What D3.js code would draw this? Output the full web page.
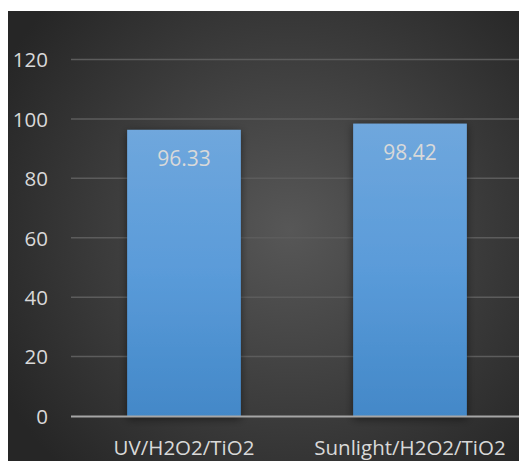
<!DOCTYPE html>
<html>
<head>
<meta charset="utf-8">
<script src="https://cdn.jsdelivr.net/npm/d3@7"></script>
<style>
  html, body { margin: 0; padding: 0; background: #ffffff; }
  svg { display: block; }
</style>
</head>
<body>
<svg id="chart" width="519" height="461"></svg>
<script>
// Degradation efficiency by process
const categories = ["UV/H2O2/TiO2", "Sunlight/H2O2/TiO2"];
const values = [96.33, 98.42];
const yTicks = [0, 20, 40, 60, 80, 100, 120];

const W = 519, H = 461;
const svg = d3.select("#chart");
const defs = svg.append("defs");

// dark radial backdrop
const bg = defs.append("radialGradient").attr("id", "bg")
  .attr("gradientUnits", "userSpaceOnUse")
  .attr("cx", 290).attr("cy", 230).attr("r", 330);
bg.append("stop").attr("offset", "0%").attr("stop-color", "#575757");
bg.append("stop").attr("offset", "100%").attr("stop-color", "#262626");

// bar fill
const barGrad = defs.append("linearGradient").attr("id", "bar")
  .attr("x1", 0).attr("y1", 0).attr("x2", 0).attr("y2", 1);
barGrad.append("stop").attr("offset", "0%").attr("stop-color", "#6fa7dd");
barGrad.append("stop").attr("offset", "50%").attr("stop-color", "#5a9bd9");
barGrad.append("stop").attr("offset", "100%").attr("stop-color", "#4388c8");

const shadow = defs.append("filter").attr("id", "shadow")
  .attr("x", "-20%").attr("y", "-10%").attr("width", "140%").attr("height", "120%");
shadow.append("feDropShadow").attr("dx", 0).attr("dy", 2)
  .attr("stdDeviation", 4).attr("flood-color", "#000").attr("flood-opacity", 0.5);

svg.append("rect").attr("x", 8).attr("y", 11)
  .attr("width", W - 8).attr("height", H - 11).attr("fill", "url(#bg)");

const x = d3.scaleBand().domain(categories).range([71, 523])
  .paddingInner(0.497).paddingOuter(0.2485);
const y = d3.scaleLinear().domain([0, 120]).range([416, 59.5]);

const font = "'Open Sans', sans-serif";

// gridlines
svg.append("g").selectAll("line").data(yTicks.filter(d => d > 0)).join("line")
  .attr("x1", 71).attr("x2", W)
  .attr("y1", d => y(d)).attr("y2", d => y(d))
  .attr("stroke", "#5c5c5c").attr("stroke-width", 1.5);

// y axis labels
const yAxis = d3.axisLeft(y).tickValues(yTicks).tickSize(0).tickPadding(0);
const gy = svg.append("g").attr("transform", "translate(48,0)").call(yAxis);
gy.select(".domain").remove();
gy.selectAll("text").attr("font-family", font).attr("font-size", 20.5)
  .attr("fill", "#d9d9d9").attr("dy", "0.36em");

// bars
svg.append("g").selectAll("rect").data(values).join("rect")
  .attr("x", (d, i) => x(categories[i]))
  .attr("width", x.bandwidth())
  .attr("y", d => y(d))
  .attr("height", d => y(0) - y(d) + 1)
  .attr("fill", "url(#bar)")
  .attr("filter", "url(#shadow)");

// baseline
svg.append("line").attr("x1", 71).attr("x2", W)
  .attr("y1", y(0) + 0.5).attr("y2", y(0) + 0.5)
  .attr("stroke", "#a6a6a6").attr("stroke-width", 2);

// value labels
svg.append("g").selectAll("text").data(values).join("text")
  .attr("x", (d, i) => x(categories[i]) + x.bandwidth() / 2)
  .attr("y", d => y(d) + 36)
  .attr("text-anchor", "middle")
  .attr("font-family", font).attr("font-size", 21)
  .attr("fill", "#d9d9d9")
  .text(d => d.toFixed(2));

// category labels
const xAxis = d3.axisBottom(x).tickSize(0).tickPadding(0);
const gx = svg.append("g").attr("transform", "translate(0,440)").call(xAxis);
gx.select(".domain").remove();
gx.selectAll("text").attr("font-family", font).attr("font-size", 20.5)
  .attr("fill", "#d9d9d9").attr("dy", "0.72em");
</script>
</body>
</html>
